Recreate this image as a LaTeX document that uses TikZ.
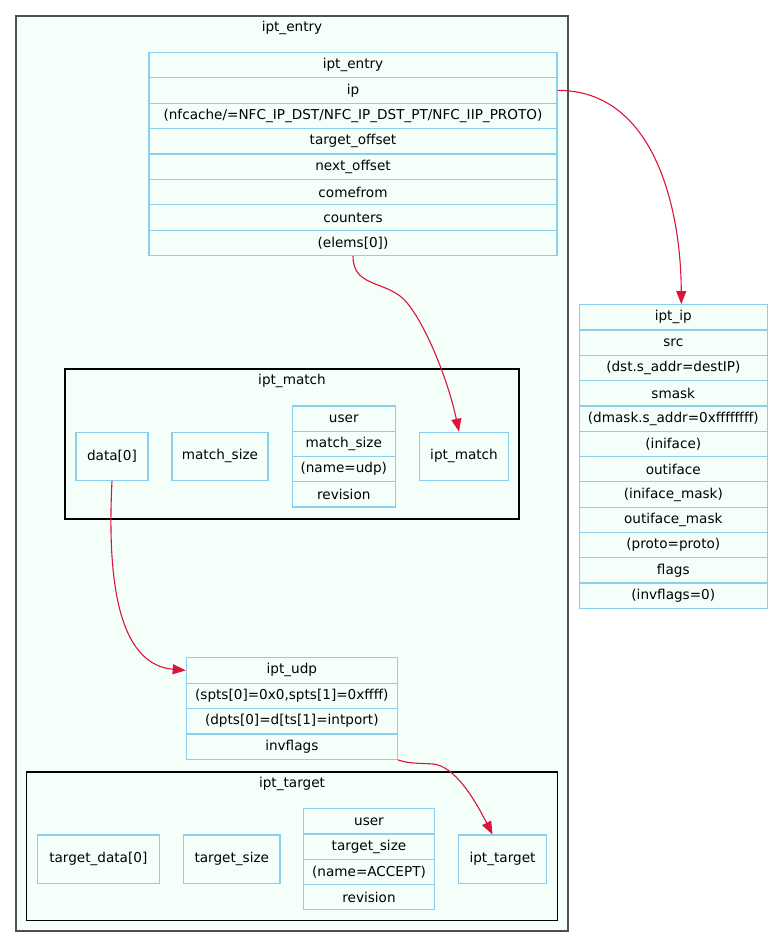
\documentclass[tikz,border=0pt]{standalone}
\usepackage{fontspec}
\setmainfont{DejaVu Sans}
\usetikzlibrary{arrows.meta}
\definecolor{mint}{HTML}{F5FFFA}
\definecolor{fieldblue}{HTML}{8ACFEE}
\definecolor{linkred}{HTML}{DC143C}
\definecolor{framegray}{HTML}{505050}
\tikzset{
  field/.style={draw=fieldblue,line width=1.2pt,fill=mint,inner sep=0pt,minimum height=25.4pt},
  cluster/.style={fill=mint,draw=black,line width=1.3pt},
  link/.style={draw=linkred,line width=1.1pt,-{Triangle[length=13pt,width=10pt]}},
}

\begin{document}
\begin{tikzpicture}[x=1pt,y=-1pt,font=\fontsize{13.6}{16}\selectfont]
\useasboundingbox (0,0) rectangle (773,948);
\fill[white] (0,0) rectangle (773,948);

% ipt_entry cluster
\draw[cluster,draw=framegray,line width=1.8pt] (16,16) rectangle (568,931);
\node (entrytitle) at (292,28) {ipt\_entry};

\foreach \t [count=\i] in {ipt\_entry,ip,
    {(nfcache/=NFC\_IP\_DST/NFC\_IP\_DST\_PT/NFC\_IIP\_PROTO)},
    target\_offset,next\_offset,comefrom,counters,{(elems[0])}}
  \node[field,minimum width=408pt] (e\i) at (353,{52.3+25.4*(\i-0.5)}) {\t};

% ipt_ip
\foreach \t [count=\i] in {ipt\_ip,src,{(dst.s\_addr=destIP)},smask,
    {(dmask.s\_addr=0xffffffff)},{(iniface)},outiface,{(iniface\_mask)},
    outiface\_mask,{(proto=proto)},flags,{(invflags=0)}}
  \node[field,minimum width=188pt,minimum height=25.3pt] (p\i) at (673.3,{304.7+25.3*(\i-0.5)}) {\t};

% ipt_match cluster
\draw[cluster] (65,369) rectangle (519,519);
\node (matchtitle) at (292,381) {ipt\_match};
\node[field,minimum width=72pt,minimum height=48pt] (data) at (112,456.3) {data[0]};
\node[field,minimum width=96pt,minimum height=48pt] (msize) at (220,456.3) {match\_size};
\foreach \t [count=\i] in {user,match\_size,{(name=udp)},revision}
  \node[field,minimum width=103pt,minimum height=25.25pt] (m\i) at (343.8,{406+25.25*(\i-0.5)}) {\t};
\node[field,minimum width=88.6pt,minimum height=48pt] (match) at (464,456.3) {ipt\_match};

% ipt_udp
\foreach \t [count=\i] in {ipt\_udp,{(spts[0]=0x0,spts[1]=0xffff)},
    {(dpts[0]=d[ts[1]=intport)},invflags}
  \node[field,minimum width=211pt,minimum height=25.4pt] (u\i) at (291.8,{657.7+25.4*(\i-0.5)}) {\t};

% ipt_target cluster
\draw[cluster] (26.3,772) rectangle (557.3,920.7);
\node (targettitle) at (292,783.5) {ipt\_target};
\node[field,minimum width=122pt,minimum height=48.3pt] (tdata) at (98.3,859.2) {target\_data[0]};
\node[field,minimum width=96.3pt,minimum height=48.3pt] (tsize) at (231.8,859.2) {target\_size};
\foreach \t [count=\i] in {user,target\_size,{(name=ACCEPT)},revision}
  \node[field,minimum width=131.4pt,minimum height=25.25pt] (t\i) at (369,{808.7+25.25*(\i-0.5)}) {\t};
\node[field,minimum width=88.4pt,minimum height=48.3pt] (target) at (502.5,859.2) {ipt\_target};

% links
\draw[link] (e2.east) .. controls (654,90) and (681,208) .. ([xshift=8pt]p1.north);
\draw[link] (e8.south) .. controls (353,285) and (380,281) .. (400,296)
  .. controls (420,311) and (447,375) .. ([xshift=-5pt]match.north);
\draw[link] (data.south) .. controls (106,600) and (125,665) .. (u1.west);
\draw[link] (u4.south east) .. controls (410,764) and (420,763) .. (433,764)
  .. controls (455,766) and (475,800) .. ([xshift=-10pt]target.north);
\end{tikzpicture}
\end{document}
